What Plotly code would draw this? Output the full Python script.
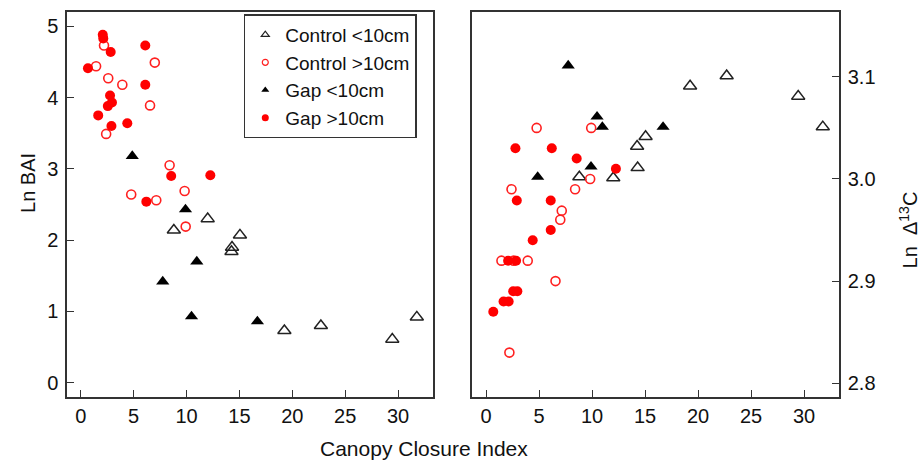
import plotly.graph_objects as go

# ---- data ----
# Control <10cm (open triangles)
ctrl_small_cci = [8.8, 12.0, 14.3, 14.25, 15.05, 19.25, 22.7, 29.45, 31.77]
ctrl_small_bai = [2.14, 2.30, 1.90, 1.84, 2.07, 0.73, 0.80, 0.61, 0.92]
ctrl_small_d13c = [3.002, 3.001, 3.011, 3.032, 3.0415, 3.091, 3.101, 3.081, 3.051]

# Control >10cm (open red circles)
ctrl_large_cci = [1.45, 2.2, 2.4, 2.6, 3.93, 4.77, 6.55, 7.0, 7.14, 8.4, 9.82, 9.92]
ctrl_large_bai = [4.44, 4.73, 3.49, 4.27, 4.18, 2.64, 3.89, 4.49, 2.56, 3.05, 2.69, 2.19]
ctrl_large_d13c = [2.920, 2.830, 2.990, 2.920, 2.920, 3.050, 2.900, 2.960, 2.969, 2.990, 3.000, 3.050]

# Gap <10cm (filled triangles)
gap_small_cci = [4.87, 7.75, 9.9, 10.47, 10.97, 16.7]
gap_small_bai = [3.18, 1.42, 2.43, 0.93, 1.70, 0.86]
gap_small_d13c = [3.002, 3.111, 3.012, 3.061, 3.051, 3.051]

# Gap >10cm (filled red circles)
gap_large_cci = [0.68, 1.65, 2.08, 2.13, 2.56, 2.77, 2.83, 2.9, 2.95, 4.4, 6.1, 6.1, 6.2, 8.55, 12.25]
gap_large_bai = [4.41, 3.75, 4.88, 4.83, 3.88, 4.03, 4.64, 3.60, 3.93, 3.64, 4.73, 4.18, 2.54, 2.90, 2.91]
gap_large_d13c = [2.870, 2.880, 2.920, 2.880, 2.890, 3.030, 2.920, 2.979, 2.890, 2.940, 2.979, 2.950, 3.030, 3.020, 3.010]

x_ticks = [0, 5, 10, 15, 20, 25, 30]
bai_ticks = [0, 1, 2, 3, 4, 5]
d13c_ticks = [2.8, 2.9, 3.0, 3.1]
d13c_ticklabels = ["2.8", "2.9", "3.0", "3.1"]

legend_names = ["Control &lt;10cm", "Control &gt;10cm", "Gap &lt;10cm", "Gap &gt;10cm"]

# ---- styles ----
RED = "#ff0000"
styles = [
    dict(symbol="triangle-up-open", size=11.5, color="#222", line=dict(width=1.5, color="#222")),
    dict(symbol="circle-open", size=9, color="#ff2020", line=dict(width=1.6, color="#ff2020")),
    dict(symbol="triangle-up", size=11.5, color="#000", line=dict(width=0)),
    dict(symbol="circle", size=10, color=RED, line=dict(width=0)),
]
legend_styles = [
    dict(symbol="triangle-up-open", size=7, color="#222", line=dict(width=1.2, color="#222")),
    dict(symbol="circle-open", size=6, color="#ff2020", line=dict(width=1.2, color="#ff2020")),
    dict(symbol="triangle-up", size=7, color="#000", line=dict(width=0)),
    dict(symbol="circle", size=7, color=RED, line=dict(width=0)),
]

groups = [
    (ctrl_small_cci, ctrl_small_bai, ctrl_small_d13c),
    (ctrl_large_cci, ctrl_large_bai, ctrl_large_d13c),
    (gap_small_cci, gap_small_bai, gap_small_d13c),
    (gap_large_cci, gap_large_bai, gap_large_d13c),
]

fig = go.Figure()
for (cci, bai, d13c), st in zip(groups, styles):
    fig.add_trace(go.Scatter(x=cci, y=bai, mode="markers", marker=st,
                             showlegend=False, xaxis="x", yaxis="y", cliponaxis=False))
    fig.add_trace(go.Scatter(x=cci, y=d13c, mode="markers", marker=st,
                             showlegend=False, xaxis="x2", yaxis="y2", cliponaxis=False))

for i, (name, st) in enumerate(zip(legend_names, legend_styles)):
    fig.add_trace(go.Scatter(x=[None], y=[None], mode="markers", marker=st, name=name,
                             legendgroup=str(i), showlegend=True, xaxis="x", yaxis="y"))

FONT = "Liberation Sans, Arial, sans-serif"
axis_common = dict(
    showline=True, linecolor="#333", linewidth=1.5, mirror=True,
    ticks="inside", ticklen=7, tickwidth=1.3, tickcolor="#333",
    showgrid=False, zeroline=False, automargin=False,
    tickfont=dict(family=FONT, size=20, color="#111"),
)

fig.update_layout(
    width=922, height=460,
    margin=dict(l=67, r=83, t=12, b=63, autoexpand=False),
    paper_bgcolor="white", plot_bgcolor="white",
    font=dict(family=FONT, color="#111"),
    xaxis=dict(domain=[0, 0.4741], range=[-1.3, 33.3], tickvals=x_ticks, anchor="y", **axis_common),
    yaxis=dict(domain=[0, 1], range=[-0.2, 5.2], tickvals=bai_ticks, anchor="x",
               ticklabelstandoff=3, **axis_common),
    xaxis2=dict(domain=[0.525, 1], range=[-1.3, 33.3], tickvals=x_ticks, anchor="y2", **axis_common),
    yaxis2=dict(domain=[0, 1], range=[2.7865, 3.1635], tickvals=d13c_ticks, ticktext=d13c_ticklabels,
                anchor="x2", side="right", ticklabelstandoff=3, **axis_common),
    showlegend=True,
    legend=dict(x=0.229, y=0.994, xanchor="left", yanchor="top",
                bgcolor="white", bordercolor="#333", borderwidth=1.5,
                font=dict(family=FONT, size=19, color="#111"),
                traceorder="grouped", tracegroupgap=0),
    annotations=[
        dict(text="Ln BAI", xref="paper", yref="paper", x=-0.0505, y=0.556,
             xanchor="center", yanchor="middle",
             textangle=-90, showarrow=False, font=dict(family=FONT, size=20, color="#111")),
        dict(text="Ln  Δ<sup>13</sup>C", xref="paper", yref="paper", x=1.090, y=0.434,
             xanchor="center", yanchor="middle",
             textangle=-90, showarrow=False, font=dict(family=FONT, size=20, color="#111")),
        dict(text="Canopy Closure Index", xref="paper", yref="paper", x=0.4624, y=-0.1325,
             xanchor="center", yanchor="middle",
             showarrow=False, font=dict(family=FONT, size=21, color="#111")),
    ],
)

fig.write_html("out.html", config={"displayModeBar": False},
               post_script="document.body.style.margin='0';document.body.style.overflow='hidden';")
